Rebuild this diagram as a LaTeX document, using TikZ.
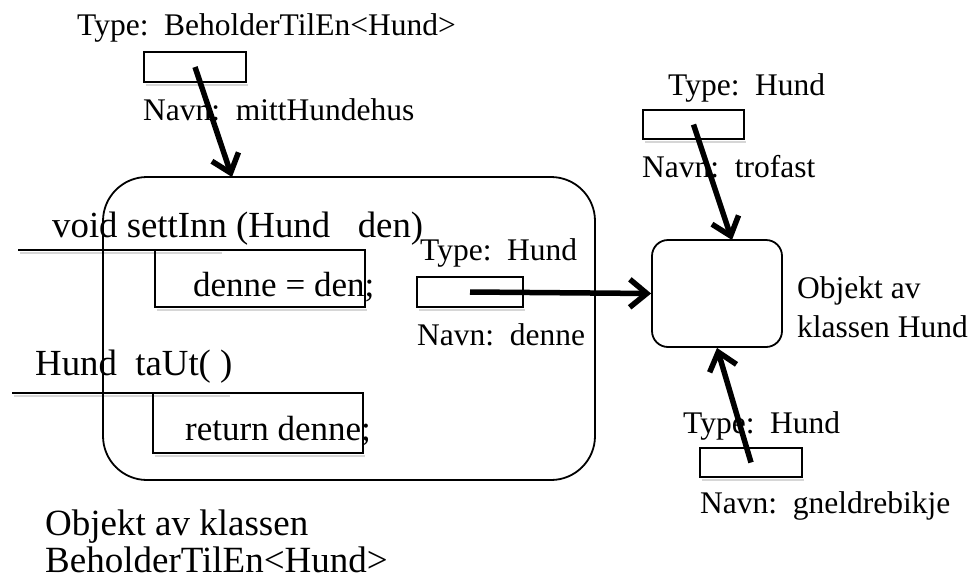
\documentclass[tikz,border=0pt]{standalone}
\usepackage{fontspec}
\setmainfont{Liberation Serif}
\usetikzlibrary{arrows.meta}
\begin{document}
\begin{tikzpicture}[x=1pt,y=-1pt,
  lbl/.style={anchor=base west, inner sep=0, font=\fontsize{31.5}{36}\selectfont},
  hdr/.style={anchor=base west, inner sep=0, font=\fontsize{36.8}{40}\selectfont},
  code/.style={anchor=base west, inner sep=0, font=\fontsize{35}{40}\selectfont},
  big/.style={anchor=base west, inner sep=0, font=\fontsize{37}{40}\selectfont},
  refbox/.style={draw, line width=1.6pt, inner sep=0},
  rbox/.style={draw, line width=1.8pt, inner sep=0},
  rulel/.style={line width=1.8pt},
  shade/.style={draw=black!16, line width=2.5pt},
  arr/.style={line width=5.5pt, -{Straight Barb[length=17pt,width=28pt,line width=5.5pt]}}
]
\useasboundingbox (0,0) rectangle (971,581);

% faint shadows
\draw[shade] (20,253) -- (222,253);
\draw[shade] (14,396) -- (230,396);
\draw[shade] (146,85) -- (248,85);
\draw[shade] (645,142) -- (746,142);
\draw[shade] (419,310) -- (525,310);
\draw[shade] (702,480) -- (804,480);
\draw[shade] (157,310) -- (367,310);
\draw[shade] (155,456) -- (365,456);

% containers
\node[rbox, rounded corners=44pt, minimum width=492pt, minimum height=303pt] (beh) at (349,328.5) {};
\node[rbox, rounded corners=16pt, minimum width=130pt, minimum height=107pt] (hobj) at (717,293.5) {};

% reference boxes
\node[refbox, fill=white, minimum width=102pt, minimum height=30pt] (r1) at (195,67) {};
\node[refbox, fill=white, minimum width=101pt, minimum height=29pt] (r2) at (693.5,124.5) {};
\node[refbox, fill=white, minimum width=106pt, minimum height=30pt] (r3) at (470,292) {};
\node[refbox, fill=white, minimum width=102pt, minimum height=29pt] (r4) at (751,462.5) {};

% method bodies
\node[refbox, minimum width=210pt, minimum height=57pt] (m1) at (260,278.5) {};
\node[refbox, minimum width=210pt, minimum height=60pt] (m2) at (258,423) {};
\draw[rulel] (18,250) -- (220,250);
\draw[rulel] (12,393) -- (228,393);

% texts
\node[lbl] (t1) at (77,35) {Type:\ \ BeholderTilEn<Hund>};
\node[lbl] (n1) at (143,120) {Navn:\ \ mittHundehus};
\node[hdr] (h1) at (52,237) {void settInn (Hund\ \ \ den)};
\node[code] (c1) at (193,296) {denne = den;};
\node[lbl] (t3) at (420,260) {Type:\ \ Hund};
\node[lbl] (n3) at (417,345) {Navn:\ \ denne};
\node[hdr] (h2) at (35,375) {Hund\ \ taUt(\ )};
\node[code] (c2) at (185,440) {return denne;};
\node[lbl] (t2) at (668,95) {Type:\ \ Hund};
\node[lbl] (n2) at (642,177) {Navn:\ \ trofast};
\node[lbl] (o1) at (797,298) {Objekt av};
\node[lbl] (o2) at (797,337) {klassen Hund};
\node[lbl] (t4) at (683,433) {Type:\ \ Hund};
\node[lbl] (n4) at (700,513) {Navn:\ \ gneldrebikje};
\node[big] (b1) at (45,535) {Objekt av klassen};
\node[big] (b2) at (45,572) {BeholderTilEn<Hund>};

% arrows
\coordinate (a1) at (232,177);
\coordinate (a2) at (732,240);
\draw[arr] (r1.center) -- (a1);
\draw[arr] (r2.center) -- (a2);
\draw[arr] (r3.center) -- (hobj.west);
\draw[arr] (r4.center) -- (hobj.south);
\end{tikzpicture}
\end{document}
